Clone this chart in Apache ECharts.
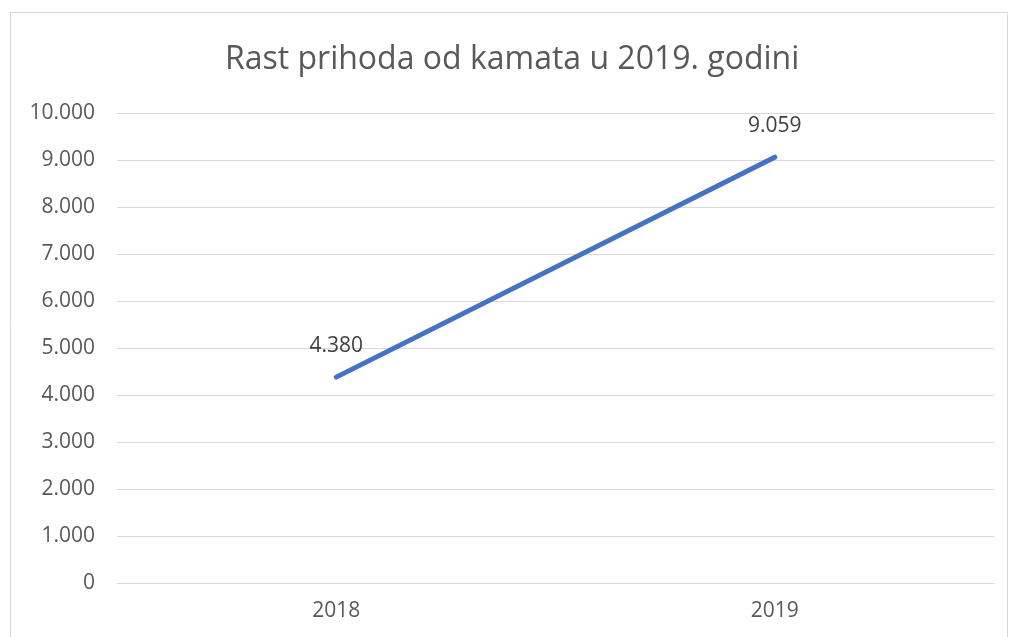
<!DOCTYPE html>
<html>
<head>
<meta charset="utf-8">
<script src="https://cdn.jsdelivr.net/npm/echarts@6/dist/echarts.min.js"></script>
<style>
  html, body { margin: 0; padding: 0; background: #fff; }
  #chart { width: 1009px; height: 637px; }
</style>
</head>
<body>
<div id="chart"></div>
<script>
// chart data
var years = ['2018', '2019'];
var prihodi = [4380, 9059];
var yTicks = [0, 1000, 2000, 3000, 4000, 5000, 6000, 7000, 8000, 9000, 10000];

// 1234 -> "1.234"
function fmt(v) {
  return String(Math.round(v)).replace(/\B(?=(\d{3})+(?!\d))/g, '.');
}

var myChart = echarts.init(document.getElementById('chart'));

var option = {
  animation: false,
  textStyle: { fontFamily: 'Open Sans' },
  graphic: [{
    type: 'rect',
    shape: { x: 10.5, y: 12.5, width: 997, height: 640 },
    style: { fill: 'none', stroke: '#d9d9d9', lineWidth: 1 },
    silent: true
  }],
  title: {
    text: 'Rast prihoda od kamata u 2019. godini',
    left: 225,
    top: 44,
    padding: 0,
    textStyle: { fontSize: 32, fontWeight: 'normal', color: '#595959', fontFamily: 'Open Sans' }
  },
  grid: { left: 117, right: 15, top: 113, bottom: 54 },
  xAxis: {
    type: 'category',
    data: years,
    boundaryGap: true,
    axisLine: { show: true, lineStyle: { color: '#d9d9d9', width: 1 } },
    axisTick: { show: false },
    axisLabel: { color: '#595959', fontSize: 21, margin: 18 }
  },
  yAxis: {
    type: 'value',
    min: yTicks[0],
    max: yTicks[yTicks.length - 1],
    interval: 1000,
    axisLine: { show: false },
    axisTick: { show: false },
    splitLine: { lineStyle: { color: '#d9d9d9', width: 1 } },
    axisLabel: { color: '#595959', fontSize: 21, margin: 22, formatter: fmt }
  },
  series: [{
    name: 'Prihodi od kamata',
    type: 'line',
    data: prihodi,
    showSymbol: true,
    symbol: 'circle',
    symbolSize: 1,
    lineStyle: { color: '#4472C4', width: 5, cap: 'round' },
    itemStyle: { color: '#4472C4' },
    label: {
      show: true,
      position: 'top',
      distance: 20,
      color: '#404040',
      fontSize: 21,
      formatter: function (p) { return fmt(p.value); }
    }
  }]
};

myChart.setOption(option);
</script>
</body>
</html>
